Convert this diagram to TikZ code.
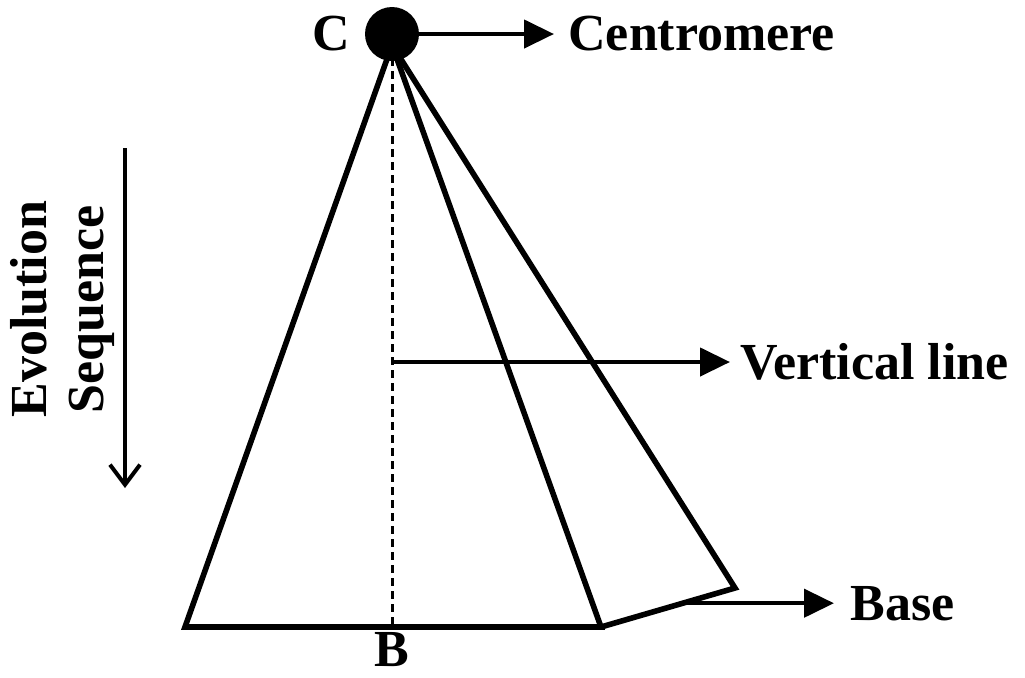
\documentclass[tikz,border=0pt]{standalone}
\usepackage{fontspec}
\setmainfont{Liberation Serif}
\usetikzlibrary{arrows.meta, positioning, calc}

\begin{document}
\begin{tikzpicture}[x=0.5pt, y=-0.5pt,
  edge/.style={line width=2.8pt, line join=miter},
  pointer/.style={line width=2.2pt, -{Triangle[length=15pt, width=14pt]}},
  txt/.style={font=\fontsize{26}{28.5}\selectfont\bfseries, inner sep=0pt}]
\useasboundingbox (0,0) rectangle (1025,677);

% Cone points
\coordinate (apex) at (392,45);
\coordinate (left) at (185,627);
\coordinate (foot) at (392,627);
\coordinate (rc) at (601,627);
\coordinate (far) at (735,588);

% Cone
\draw[edge] (apex) -- (left) -- (rc) -- cycle;
\draw[edge] (rc) -- (far) -- (apex);
\draw[line width=1.5pt, dash pattern=on 4pt off 2.5pt] (apex) -- (foot);

% Centromere
\node[circle, fill=black, minimum size=27pt, inner sep=0pt] (cen) at (392,34) {};
\node[txt, left=7pt of cen] (clab) {C};
\node[txt, anchor=west] (ctext) at (568,34) {Centromere};
\draw[pointer, shorten >=7pt] (cen.east) -- (ctext.west);

% Vertical line
\coordinate (vfoot) at (392,362);
\node[txt, anchor=west] (vtext) at (740,362) {Vertical line};
\draw[pointer, shorten >=5pt] (vfoot) -- (vfoot -| vtext.west);

% Base
\coordinate (bpt) at ($(rc)!0.61!(far)$);
\node[txt, anchor=west] (btext) at (850,604) {Base};
\draw[pointer, shorten >=8pt] (bpt) -- (bpt -| btext.west);
\node[txt, below=2.5pt of foot] (blab) {B};

% Evolution sequence
\node[txt, rotate=90, align=center] (evo) at (62,309) {Evolution\\Sequence};
\coordinate (evtop) at (125,148);
\coordinate (evbot) at (125,488);
\draw[line width=2pt, -{Straight Barb[length=10pt, width=15pt, line width=2pt]}] (evtop) -- (evbot);

\end{tikzpicture}
\end{document}
